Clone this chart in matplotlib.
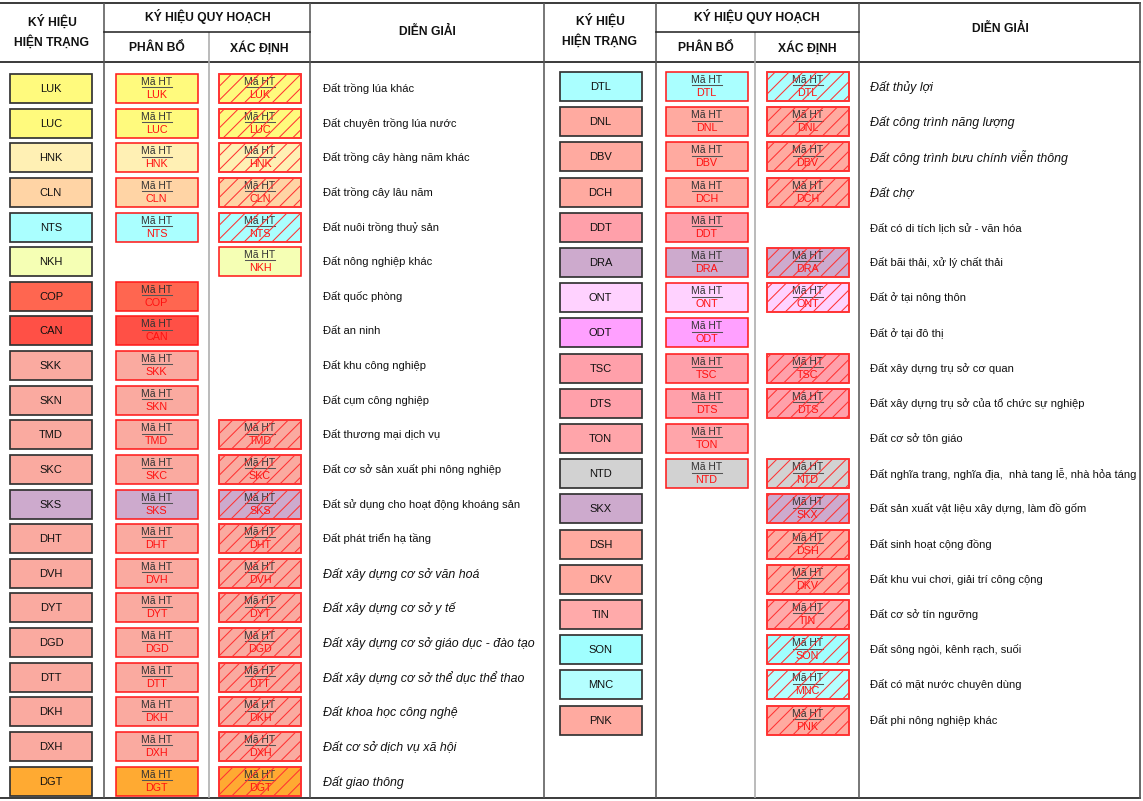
import matplotlib
matplotlib.use("Agg")
import matplotlib.pyplot as plt
from matplotlib.patches import Rectangle

plt.rcParams['font.family'] = ['Liberation Sans', 'DejaVu Sans']
plt.rcParams['hatch.linewidth'] = 0.6

# ---------------- data ----------------
left_codes = ["LUK", "LUC", "HNK", "CLN", "NTS", "NKH", "COP", "CAN", "SKK", "SKN", "TMD",
              "SKC", "SKS", "DHT", "DVH", "DYT", "DGD", "DTT", "DKH", "DXH", "DGT"]
left_colors = ["#FFFA7D", "#FFFA7D", "#FFF0B4", "#FFD4A5", "#AAFFFF", "#F5FFB4", "#FF6650",
               "#FF5046", "#FAAAA0", "#FAAAA0", "#FAAAA0", "#FAAAA0", "#CDAACD", "#FAAAA0",
               "#FAAAA0", "#FAAAA0", "#FAAAA0", "#FAAAA0", "#FAAAA0", "#FAAAA0", "#FFAA32"]
left_desc = ["Đất trồng lúa khác", "Đất chuyên trồng lúa nước", "Đất trồng cây hàng năm khác",
             "Đất trồng cây lâu năm", "Đất nuôi trồng thuỷ sản", "Đất nông nghiệp khác",
             "Đất quốc phòng", "Đất an ninh", "Đất khu công nghiệp", "Đất cụm công nghiệp",
             "Đất thương mại dịch vụ", "Đất cơ sở sản xuất phi nông nghiệp",
             "Đất sử dụng cho hoạt động khoáng sản", "Đất phát triển hạ tầng",
             "Đất xây dựng cơ sở văn hoá", "Đất xây dựng cơ sở y tế",
             "Đất xây dựng cơ sở giáo dục - đào tạo", "Đất xây dựng cơ sở thể dục thể thao",
             "Đất khoa học công nghệ", "Đất cơ sở dịch vụ xã hội", "Đất giao thông"]
left_pb = [1, 1, 1, 1, 1, 0, 1, 1, 1, 1, 1, 1, 1, 1, 1, 1, 1, 1, 1, 1, 1]
# 'h' = hatched, 'p' = plain, '' = none
left_xd = ["h", "h", "h", "h", "h", "p", "", "", "", "", "h",
           "h", "h", "h", "h", "h", "h", "h", "h", "h", "h"]
left_italic = [0]*14 + [1]*7

right_codes = ["DTL", "DNL", "DBV", "DCH", "DDT", "DRA", "ONT", "ODT", "TSC", "DTS",
               "TON", "NTD", "SKX", "DSH", "DKV", "TIN", "SON", "MNC", "PNK"]
right_colors = ["#AAFFFF", "#FFAAA0", "#FFAAA0", "#FFAAA0", "#FFA0AA", "#CDAACD", "#FFD2FF",
                "#FFA0FF", "#FFA0AA", "#FFA0AA", "#FFA5AA", "#D2D2D2", "#CDAACD", "#FFAAA0",
                "#FFAAA0", "#FFAAAA", "#A0FFFF", "#B4FFFF", "#FFAAA0"]
right_desc = ["Đất thủy lợi", "Đất công trình năng lượng", "Đất công trình bưu chính viễn thông",
              "Đất chợ", "Đất có di tích lịch sử - văn hóa", "Đất bãi thải, xử lý chất thải",
              "Đất ở tại nông thôn", "Đất ở tại đô thị", "Đất xây dựng trụ sở cơ quan",
              "Đất xây dựng trụ sở của tổ chức sự nghiệp", "Đất cơ sở tôn giáo",
              "Đất nghĩa trang, nghĩa địa,  nhà tang lễ, nhà hỏa táng",
              "Đất sản xuất vật liệu xây dựng, làm đồ gốm", "Đất sinh hoạt cộng đồng",
              "Đất khu vui chơi, giải trí công cộng", "Đất cơ sở tín ngưỡng",
              "Đất sông ngòi, kênh rạch, suối", "Đất có mặt nước chuyên dùng",
              "Đất phi nông nghiệp khác"]
right_pb = [1, 1, 1, 1, 1, 1, 1, 1, 1, 1, 1, 1, 0, 0, 0, 0, 0, 0, 0]
right_xd = ["h", "h", "h", "h", "", "h", "h", "", "h", "h", "", "h",
            "h", "h", "h", "h", "h", "h", "h"]
right_italic = [1, 1, 1, 1] + [0]*15

header_left = "KÝ HIỆU\nHIỆN TRẠNG"
header_group = "KÝ HIỆU QUY HOẠCH"
header_pb = "PHÂN BỔ"
header_xd = "XÁC ĐỊNH"
header_desc = "DIỄN GIẢI"
tag = "Mã HT"

# ---------------- figure ----------------
W, H = 1143, 801
DPI = 125
fig = plt.figure(figsize=(W / DPI, H / DPI), dpi=DPI)
ax = fig.add_axes([0, 0, 1, 1])
ax.set_xlim(0, W)
ax.set_ylim(H, 0)
ax.axis('off')

RED = "#FF1A1A"
DARK = "#222222"


def table(x0, xs, top, mid, bottom, draw_x0):
    c1, c2, c3 = xs
    lines = [(c1, top, "#555555"), (c2, mid, "#aaaaaa"), (c3, top, "#555555")]
    if draw_x0:
        lines.append((x0, top, "#555555"))
    for x, yt, col in lines:
        ax.plot([x, x], [yt, bottom], color=col, lw=0.9, solid_capstyle='butt')
    ax.plot([c1, c3], [mid, mid], color=DARK, lw=0.9)


# horizontal lines of the whole sheet
ax.plot([0, 1140], [2.5, 2.5], color=DARK, lw=1.0)
ax.plot([0, 1140], [62, 62], color=DARK, lw=1.0)
ax.plot([0, 1140], [797.5, 797.5], color=DARK, lw=1.0)
ax.plot([1140, 1140], [2.5, 797.5], color="#555555", lw=1.0)

table(0, (104, 209, 310), 2.5, 32, 797.5, False)
table(544, (656, 755, 859), 2.5, 32, 797.5, True)

hfs = 7.0


def headers(cx_left, cx_pb, cx_xd, cx_desc, y_left, y_desc):
    ax.text(cx_left, y_left, header_left, ha='center', va='center', fontsize=hfs,
            fontweight='bold', linespacing=1.6, color="#111111")
    ax.text((cx_pb + cx_xd) / 2, 17, header_group, ha='center', va='center', fontsize=hfs,
            fontweight='bold', color="#111111")
    ax.text(cx_pb, 48, header_pb, ha='center', va='center', fontsize=hfs,
            fontweight='bold', color="#111111")
    ax.text(cx_xd, 48, header_xd, ha='center', va='center', fontsize=hfs,
            fontweight='bold', color="#111111")
    ax.text(cx_desc, y_desc, header_desc, ha='center', va='center', fontsize=hfs,
            fontweight='bold', color="#111111")


headers(52, 156.5, 259.5, 427, 32, 32)
headers(600, 706, 807, 1000, 31, 29)

BW, BH = 82, 29


def code_box(cx, cy, code, color):
    ax.add_patch(Rectangle((cx - BW / 2, cy - BH / 2), BW, BH, facecolor=color,
                           edgecolor="#333333", lw=1.0, zorder=3))
    ax.text(cx, cy + 0.5, code, ha='center', va='center', fontsize=6.4, color="#111111",
            zorder=4)


def tag_box(cx, cy, code, color, hatched):
    ax.add_patch(Rectangle((cx - BW / 2, cy - BH / 2), BW, BH, facecolor=color,
                           edgecolor=RED, lw=0.9, zorder=3))
    ax.text(cx, cy - 6.5, tag, ha='center', va='center', fontsize=6.0, color="#333333",
            zorder=4)
    ax.plot([cx - 15, cx + 15], [cy - 1.2, cy - 1.2], color="#555555", lw=0.6, zorder=4)
    ax.text(cx, cy + 6.5, code, ha='center', va='center', fontsize=6.2, color="#FF1010",
            zorder=4)
    if hatched:
        ax.add_patch(Rectangle((cx - BW / 2, cy - BH / 2), BW, BH, fill=False,
                               hatch='///', edgecolor="#FF3333", lw=0.9, zorder=5))


def fill_table(codes, colors, desc, pb, xd, italic, y0, step, cx_code, cx_pb, cx_xd, x_desc):
    for i, code in enumerate(codes):
        cy = y0 + i * step
        code_box(cx_code, cy, code, colors[i])
        if pb[i]:
            tag_box(cx_pb, cy, code, colors[i], False)
        if xd[i]:
            tag_box(cx_xd, cy, code, colors[i], xd[i] == 'h')
        if italic[i]:
            ax.text(x_desc, cy + 1, desc[i], ha='left', va='center', fontsize=7.1,
                    style='italic', color="#111111")
        else:
            ax.text(x_desc, cy, desc[i], ha='left', va='center', fontsize=6.4,
                    color="#111111")


fill_table(left_codes, left_colors, left_desc, left_pb, left_xd, left_italic,
           88.5, 34.63, 51, 156.5, 260, 323)
fill_table(right_codes, right_colors, right_desc, right_pb, right_xd, right_italic,
           86.5, 35.2, 600.5, 706.5, 807.5, 870)

fig.savefig("out.png", dpi=DPI)
